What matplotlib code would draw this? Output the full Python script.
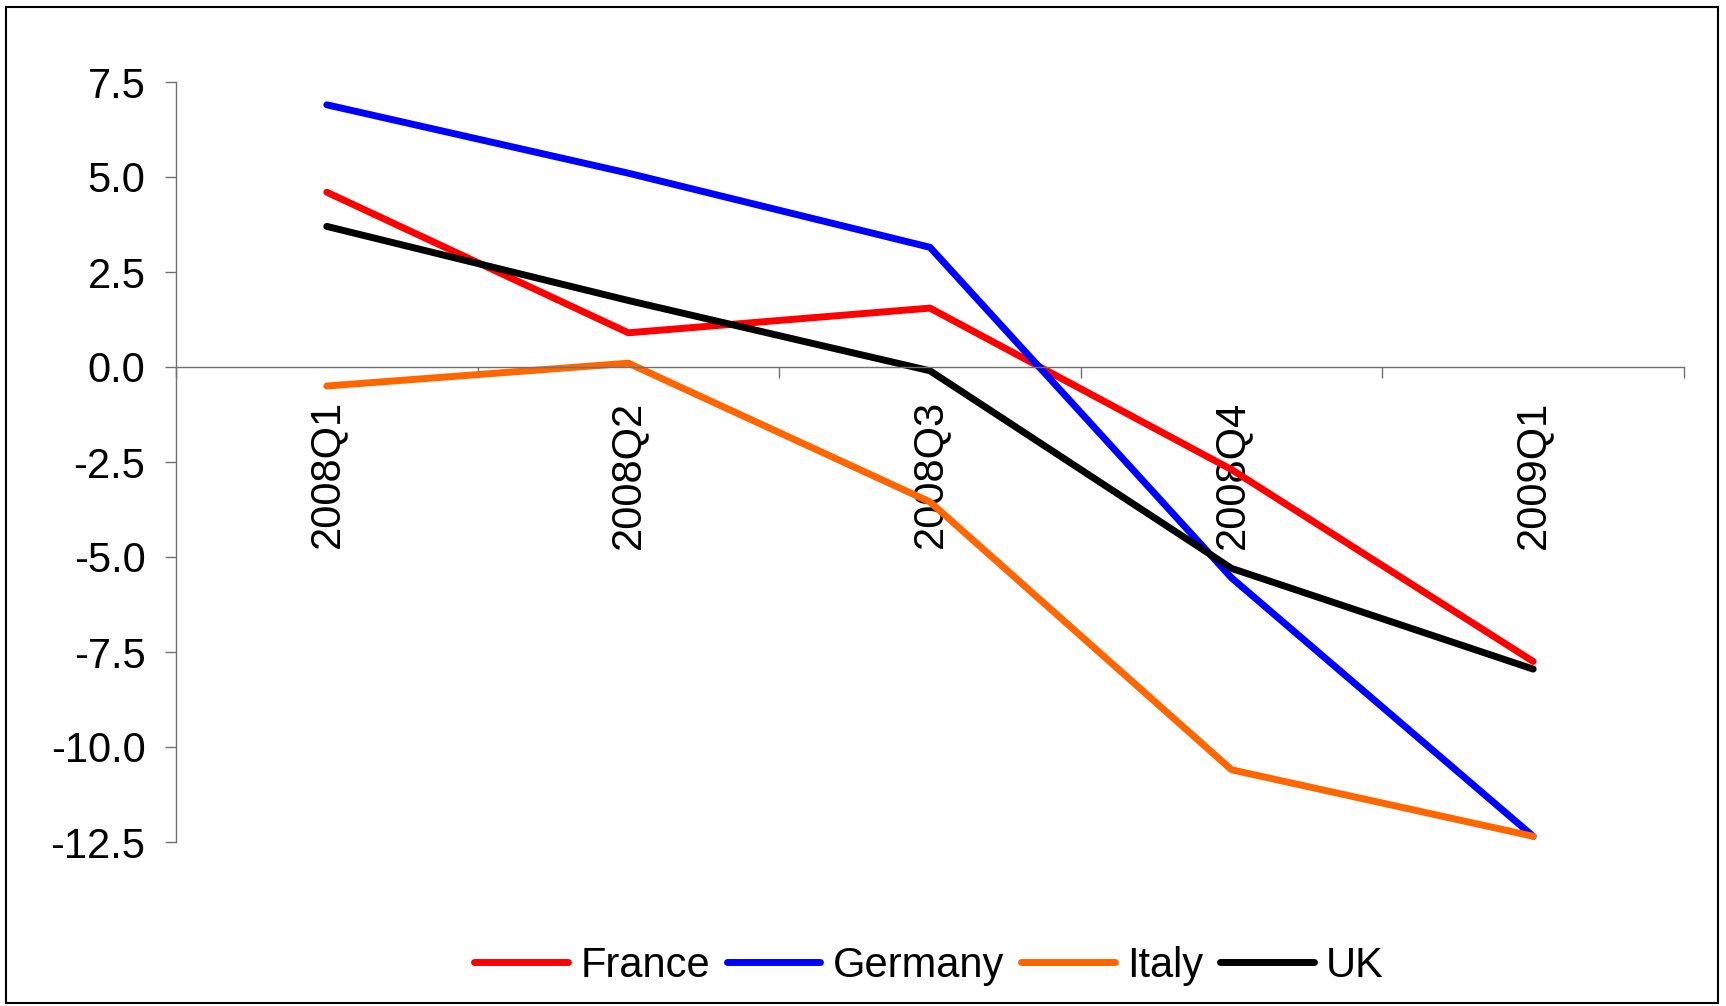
import matplotlib
matplotlib.use("Agg")
import matplotlib.pyplot as plt
from matplotlib.patches import Rectangle
from matplotlib.ticker import FixedLocator, NullFormatter

plt.rcParams['font.family'] = ['Liberation Sans', 'DejaVu Sans']

categories = ["2008Q1", "2008Q2", "2008Q3", "2008Q4", "2009Q1"]
france = [4.6, 0.9, 1.55, -2.7, -7.75]
germany = [6.9, 5.1, 3.15, -5.55, -12.35]
italy = [-0.5, 0.1, -3.55, -10.6, -12.35]
uk = [3.7, 1.75, -0.1, -5.3, -7.95]
yticks = [7.5, 5.0, 2.5, 0.0, -2.5, -5.0, -7.5, -10.0, -12.5]

series = [("France", france, "#FF0000"),
          ("Germany", germany, "#0000FF"),
          ("Italy", italy, "#FF6600"),
          ("UK", uk, "#000000")]

W, H = 1726, 1006
fig = plt.figure(figsize=(W / 100, H / 100), dpi=100)
ax = fig.add_axes([176 / W, 1 - 842 / H, (1684 - 176) / W, (842 - 82) / H])

x = list(range(len(categories)))
for name, vals, col in series:
    ax.plot(x, vals, color=col, lw=5.0, label=name, solid_capstyle='round',
            solid_joinstyle='round')

ax.set_xlim(-0.5, len(categories) - 0.5)
ax.set_ylim(-12.5, 7.5)

axis_col = '#707070'
ax.spines['top'].set_visible(False)
ax.spines['right'].set_visible(False)
ax.spines['bottom'].set_position(('data', 0))
for s in ('left', 'bottom'):
    ax.spines[s].set_color(axis_col)
    ax.spines[s].set_linewidth(1.0)

ax.set_yticks(yticks)
ax.set_yticklabels([f"{v:.1f}" for v in yticks])
ax.tick_params(axis='y', direction='out', length=8, width=1.0, color=axis_col,
               labelsize=30, pad=14)

# category boundaries as major ticks, labels at category centres as minor ticks
ax.xaxis.set_major_locator(FixedLocator([i - 0.5 for i in range(len(categories) + 1)]))
ax.xaxis.set_major_formatter(NullFormatter())
ax.xaxis.set_minor_locator(FixedLocator(x))
ax.set_xticklabels(categories, minor=True, rotation=90, va='top', ha='center')
ax.tick_params(axis='x', which='major', direction='out', length=8, width=1.0, color=axis_col)
ax.tick_params(axis='x', which='minor', length=0, labelsize=30, pad=24)

leg = fig.legend(loc='center', bbox_to_anchor=(929 / W, 1 - 966 / H), ncol=4,
                 frameon=False, fontsize=30, handlelength=2.25, handletextpad=0.3,
                 columnspacing=0.4, borderpad=0, borderaxespad=0)

fig.patches.append(Rectangle((6 / W, 3 / H), (1718 - 6) / W, (1001 - 5) / H,
                             transform=fig.transFigure, fill=False,
                             edgecolor='black', lw=1.5))

fig.savefig("out.png", dpi=100)
